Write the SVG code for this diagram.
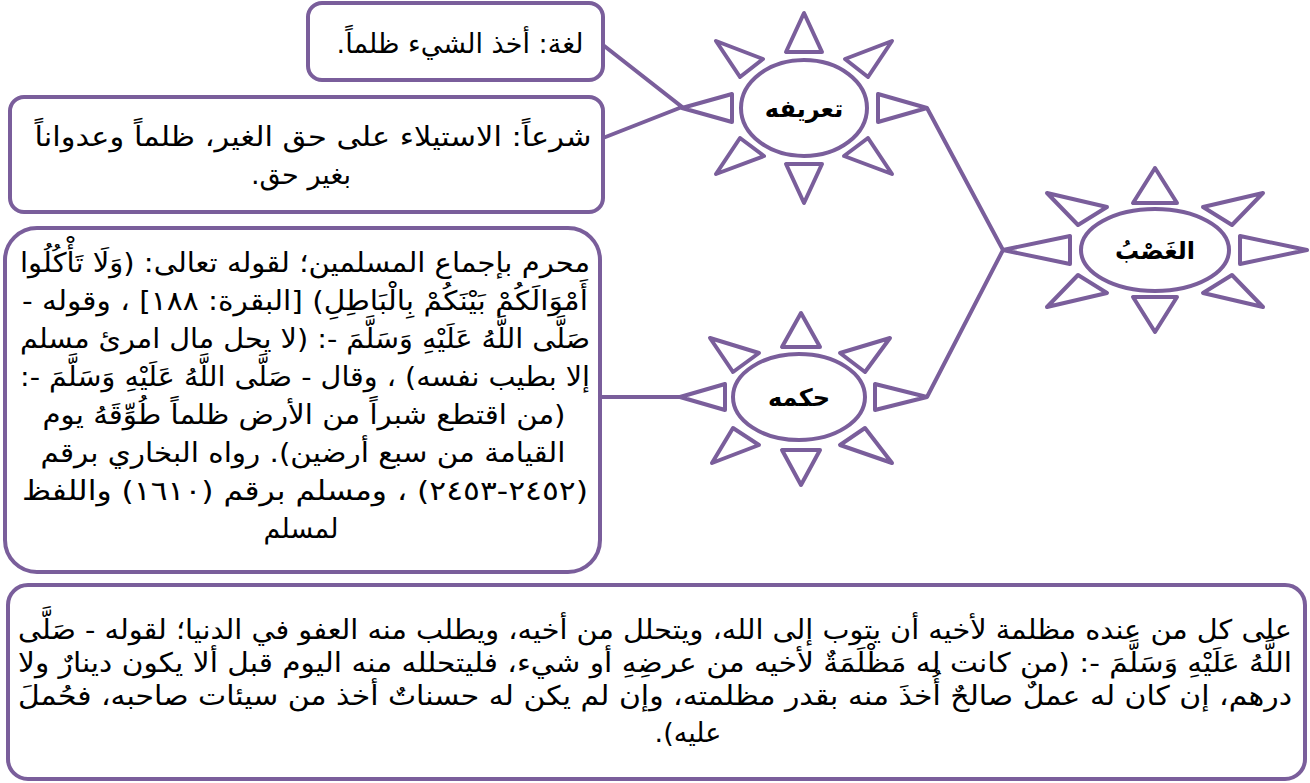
<svg xmlns="http://www.w3.org/2000/svg" width="1310" height="783" viewBox="0 0 1310 783">
<style>
.box{fill:#fff;stroke:#7a5e9b;stroke-width:4}
.ray{fill:#fff;stroke:#7a5e9b;stroke-width:4;stroke-linejoin:round}
.conn{fill:none;stroke:#7a5e9b;stroke-width:4}
.t{font-family:"DejaVu Sans","Liberation Sans",sans-serif;font-size:27px;fill:#000;direction:rtl;text-anchor:middle}
.tr{font-family:"DejaVu Sans","Liberation Sans",sans-serif;font-size:27px;fill:#000;direction:rtl;text-anchor:start}
.h{font-family:"DejaVu Sans","Liberation Sans",sans-serif;font-size:24px;font-weight:bold;fill:#000;direction:rtl;text-anchor:middle}
</style>
<rect width="1310" height="783" fill="#fff"/>
<g id="connectors">
<polyline class="conn" points="603,45 682,107 603,138"/>
<line class="conn" x1="680" y1="397" x2="600" y2="397"/>
<polyline class="conn" points="927,108 1003,250 927,397"/>
</g>
<g id="sun-taarif" transform="translate(804,108)">
<polygon class="ray" points="0,-95 -18,-56 18,-56"/>
<polygon class="ray" points="0,95 -18,56 18,56"/>
<polygon class="ray" points="-122,0 -72,-14 -72,14"/>
<polygon class="ray" points="123,0 74,-14 74,14"/>
<polygon class="ray" points="-88,-67 -41,-49 -64,-31"/>
<polygon class="ray" points="88,-67 41,-49 64,-31"/>
<polygon class="ray" points="-88,66 -64,30 -40,48"/>
<polygon class="ray" points="88,66 64,30 40,48"/>
<ellipse class="ray" cx="0" cy="0" rx="63" ry="48"/>
<text class="h" x="0" y="9">تعريفه</text>
</g>
<g id="sun-ghasb" transform="translate(1155,250)">
<polygon class="ray" points="0,-82 -22,-47 22,-47"/>
<polygon class="ray" points="0,82 -22,47 22,47"/>
<polygon class="ray" points="-152,0 -85,-14 -85,14"/>
<polygon class="ray" points="152,0 85,-14 85,14"/>
<polygon class="ray" points="-108,-57 -48,-43 -77,-25"/>
<polygon class="ray" points="108,-57 48,-43 77,-25"/>
<polygon class="ray" points="-108,57 -77,25 -48,43"/>
<polygon class="ray" points="108,57 77,25 48,43"/>
<ellipse class="ray" cx="0" cy="0" rx="74" ry="41"/>
<text class="h" x="0" y="9">الغَصْبُ</text>
</g>
<g id="sun-hukm" transform="translate(801,397)">
<polygon class="ray" points="0,-84 -19,-50 19,-50"/>
<polygon class="ray" points="0,88 -19,53 19,53"/>
<polygon class="ray" points="-121,0 -76,-13 -76,13"/>
<polygon class="ray" points="126,0 74,-13 74,13"/>
<polygon class="ray" points="-91,-59 -42,-44 -68,-25"/>
<polygon class="ray" points="89,-59 39,-44 64,-25"/>
<polygon class="ray" points="-89,66 -68,31 -42,48"/>
<polygon class="ray" points="91,66 64,31 39,48"/>
<ellipse class="ray" cx="-2" cy="0" rx="66" ry="43"/>
<text class="h" x="-2" y="9">حكمه</text>
</g>
<g id="box-lugha">
<rect class="box" x="308" y="3" width="295" height="77" rx="14"/>
<text class="t" x="460" y="53">لغة: أخذ الشيء ظلماً.</text>
</g>
<g id="box-shar">
<rect class="box" x="10" y="97" width="593" height="115" rx="14"/>
<text class="t" x="313" y="146" textLength="557" lengthAdjust="spacingAndGlyphs">شرعاً: الاستيلاء على حق الغير، ظلماً وعدواناً</text>
<text class="t" x="301" y="184">بغير حق.</text>
</g>
<g id="box-hukm">
<rect class="box" x="5" y="228" width="595" height="344" rx="32"/>
<text class="t" x="305" y="272" textLength="570" lengthAdjust="spacingAndGlyphs">محرم بإجماع المسلمين؛ لقوله تعالى: (وَلَا تَأْكُلُوا</text>
<text class="t" x="305" y="310" textLength="566" lengthAdjust="spacingAndGlyphs">أَمْوَالَكُمْ بَيْنَكُمْ بِالْبَاطِلِ) [البقرة: ١٨٨] ، وقوله -</text>
<text class="t" x="305" y="348" textLength="570" lengthAdjust="spacingAndGlyphs">صَلَّى اللَّهُ عَلَيْهِ وَسَلَّمَ -: (لا يحل مال امرئ مسلم</text>
<text class="t" x="305" y="386" textLength="570" lengthAdjust="spacingAndGlyphs">إلا بطيب نفسه) ، وقال - صَلَّى اللَّهُ عَلَيْهِ وَسَلَّمَ -:</text>
<text class="t" x="304" y="424" textLength="523" lengthAdjust="spacingAndGlyphs">(من اقتطع شبراً من الأرض ظلماً طُوِّقَهُ يوم</text>
<text class="t" x="303" y="462" textLength="525" lengthAdjust="spacingAndGlyphs">القيامة من سبع أرضين). رواه البخاري برقم</text>
<text class="t" x="305" y="500" textLength="566" lengthAdjust="spacingAndGlyphs">(٢٤٥٢-٢٤٥٣) ، ومسلم برقم (١٦١٠) واللفظ</text>
<text class="t" x="301" y="538">لمسلم</text>
</g>
<g id="box-tawba">
<rect class="box" x="8" y="585" width="1297" height="194" rx="20"/>
<text class="t" x="655" y="639" textLength="1274" lengthAdjust="spacingAndGlyphs">على كل من عنده مظلمة لأخيه أن يتوب إلى الله، ويتحلل من أخيه، ويطلب منه العفو في الدنيا؛ لقوله - صَلَّى</text>
<text class="t" x="655" y="672" textLength="1274" lengthAdjust="spacingAndGlyphs">اللَّهُ عَلَيْهِ وَسَلَّمَ -: (من كانت له مَظْلَمَةٌ لأخيه من عرضِهِ أو شيء، فليتحلله منه اليوم قبل ألا يكون دينارٌ ولا</text>
<text class="t" x="655" y="705" textLength="1274" lengthAdjust="spacingAndGlyphs">درهم، إن كان له عملٌ صالحٌ أُخذَ منه بقدر مظلمته، وإن لم يكن له حسناتٌ أخذ من سيئات صاحبه، فحُملَ</text>
<text class="t" x="688" y="742">عليه).</text>
</g>
</svg>
